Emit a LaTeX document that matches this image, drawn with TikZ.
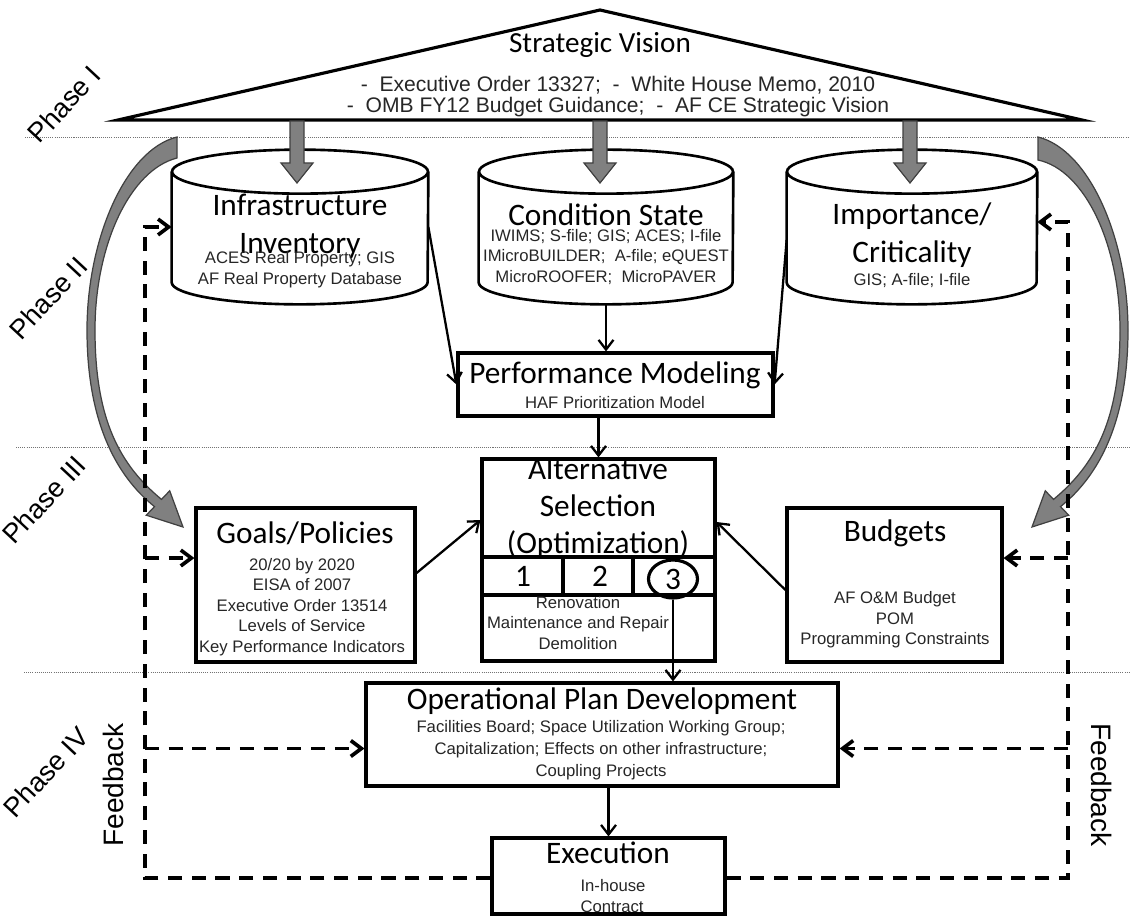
\documentclass[tikz,border=0pt]{standalone}
\usepackage{fontspec}
\setmainfont{Liberation Sans}
\newfontfamily\calfont{Carlito}
\usetikzlibrary{arrows.meta,fit,calc,shapes.geometric}
\begin{document}
\begin{tikzpicture}[x=0.02cm,y=-0.02cm,
  box/.style={draw, line width=1.8pt, inner sep=0pt},
  body/.style={inner sep=0pt},
  cyl/.style={line width=1.5pt},
  ttl/.style={font=\calfont\fontsize{17.8}{21.5}\selectfont, align=center, inner sep=0pt},
  sub/.style={font=\fontsize{9.5}{11.9}\selectfont, text=black!85, align=center, inner sep=0pt},
  arr/.style={line width=1.3pt, -{Straight Barb[length=5.5pt,width=8.5pt]}},
  fb/.style={line width=2.1pt, dash pattern=on 8pt off 5.5pt},
  fbarr/.style={fb, -{Straight Barb[length=6pt,width=9pt]}},
  phase/.style={font=\fontsize{15.5}{17}\selectfont, rotate=47, inner sep=0pt},
  fbtext/.style={font=\fontsize{16}{18}\selectfont, inner sep=0pt},
  divider/.style={draw=black!55, line width=0.5pt, dash pattern=on 0.6pt off 0.6pt},
  blockarrow/.style={fill=black!50, draw=black!75, line width=0.7pt, line join=miter},
]
\useasboundingbox (0,0) rectangle (1130,919);

% phase dividers
\draw[divider] (25,137) -- (1130,137);
\draw[divider] (16,447) -- (1130,447);
\draw[divider] (24,672) -- (1130,672);

% phase labels
\node[phase] (p1) at (64,104) {Phase I};
\node[phase] (p2) at (48,298) {Phase II};
\node[phase] (p3) at (44,500) {Phase III};
\node[phase] (p4) at (46,772) {Phase IV};

% strategic vision triangle
\draw[line width=1.8pt, line join=miter] (118,120) -- (600,10) -- (1082,120) -- cycle;
\node[ttl, font=\calfont\fontsize{16.6}{20}\selectfont] (svt) at (600,45) {Strategic Vision};
\node[font=\fontsize{12}{12}\selectfont, align=center, inner sep=0pt, text=black!85] (svs) at (618,97)
  {-\ \ Executive Order 13327;\ \ -\ \ White House Memo, 2010\\-\ \ OMB FY12 Budget Guidance;\ \ -\ \ AF CE Strategic Vision};

% curved gray arrows
\draw[blockarrow] (177,137) .. controls (125,150) and (87,240) .. (87,330)
   .. controls (87,420) and (115,475) .. (154.5,506.6)
   -- (146.3,515.2) -- (183,527) -- (169.7,490.8) -- (161.5,499.4)
   .. controls (120,465) and (95,420) .. (95,330)
   .. controls (95,245) and (130,170) .. (177,158) -- cycle;
\draw[blockarrow] (1038,137) .. controls (1090,150) and (1128,240) .. (1128,330)
   .. controls (1128,420) and (1100,475) .. (1060.5,506.6)
   -- (1068.7,515.2) -- (1032,527) -- (1045.3,490.8) -- (1053.5,499.4)
   .. controls (1095,465) and (1120,420) .. (1120,330)
   .. controls (1120,245) and (1085,170) .. (1038,160) -- cycle;

% cylinders
\node[body, fit={(172,172)(428,282)}] (inf) {};
\node[body, fit={(479,172)(733,282)}] (cond) {};
\node[body, fit={(787,172)(1037,282)}] (imp) {};
\draw[cyl] (inf.north west) -- (inf.south west) arc[start angle=180,end angle=360,x radius=2.56cm,y radius=0.44cm] -- (inf.north east);
\draw[cyl] (inf.north) ellipse[x radius=2.56cm,y radius=0.44cm];
\draw[cyl] (cond.north west) -- (cond.south west) arc[start angle=180,end angle=360,x radius=2.54cm,y radius=0.44cm] -- (cond.north east);
\draw[cyl] (cond.north) ellipse[x radius=2.54cm,y radius=0.44cm];
\draw[cyl] (imp.north west) -- (imp.south west) arc[start angle=180,end angle=360,x radius=2.5cm,y radius=0.44cm] -- (imp.north east);
\draw[cyl] (imp.north) ellipse[x radius=2.5cm,y radius=0.44cm];

% gray down arrows
\foreach \c in {297,600,910} {
  \draw[blockarrow] (\c-7,121) -- (\c+7,121) -- (\c+7,163) -- (\c+16,163) -- (\c,183) -- (\c-16,163) -- (\c-7,163) -- cycle;
}

\node[ttl] (infT) at (300,226) {Infrastructure\\Inventory};
\node[sub] (infS) at (300,270) {ACES Real Property; GIS\\AF Real Property Database};
\node[ttl] (condT) at (606,215) {Condition State};
\node[sub] (condS) at (606,257) {IWIMS; S-file; GIS; ACES; I-file\\IMicroBUILDER;\ \ A-file; eQUEST\\MicroROOFER;\ \ MicroPAVER};
\node[ttl] (impT) at (912,235) {Importance/\\Criticality};
\node[sub] (impS) at (912,281) {GIS; A-file; I-file};

% boxes
\node[box, fit={(458,353)(773,416)}] (pm) {};
\node[ttl] (pmT) at (615,375) {Performance Modeling};
\node[sub] (pmS) at (615,403) {HAF Prioritization Model};

\node[box, fit={(482,459)(715,661)}] (alt) {};
\draw[line width=1.8pt] (482,557) -- (715,557) (482,595) -- (715,595) (563,557) -- (563,595) (633,557) -- (633,595);
\node[ttl, font=\calfont\fontsize{17.8}{21}\selectfont] (altT) at (598,508) {Alternative\\Selection\\(Optimization)};
\node[ttl] (n1) at (523,576) {1};
\node[ttl] (n2) at (600,576) {2};
\node[ttl, draw, ellipse, line width=1.8pt, minimum width=0.98cm, minimum height=0.76cm] (c3) at (673,579) {3};
\node[sub, font=\fontsize{9.5}{11.6}\selectfont] (altS) at (578,623) {Renovation\\Maintenance and Repair\\Demolition};

\node[box, fit={(196,508)(415,662)}] (goals) {};
\node[ttl] (goalsT) at (305,533) {Goals/Policies};
\node[sub, font=\fontsize{9.5}{11.6}\selectfont] (goalsS) at (302,607) {20/20 by 2020\\EISA of 2007\\Executive Order 13514\\Levels of Service\\Key Performance Indicators};

\node[box, fit={(787,508)(1002,662)}] (bud) {};
\node[ttl] (budT) at (895,533) {Budgets};
\node[sub, font=\fontsize{9.5}{11.6}\selectfont] (budS) at (895,620) {AF O\&M Budget\\POM\\Programming Constraints};

\node[box, fit={(366,683)(838,786)}] (op) {};
\node[ttl] (opT) at (602,701) {Operational Plan Development};
\node[sub, font=\fontsize{9.5}{12.6}\selectfont] (opS) at (601,750) {Facilities Board; Space Utilization Working Group;\\Capitalization; Effects on other infrastructure;\\Coupling Projects};

\node[box, fit={(492,838)(725,914)}] (exe) {};
\node[ttl] (exeT) at (608,853) {Execution};
\node[sub, align=left] (exeS) at (613,896) {In-house\\Contract};

% feedback labels
\node[fbtext, rotate=90] (fbL) at (113,785) {Feedback};
\node[fbtext, rotate=-90] (fbR) at (1102,785) {Feedback};

% connector end points
\coordinate (L) at (145,0);
\coordinate (R) at (1068,0);
\coordinate (goalsIn) at ([yshift=0.54cm]goals.west);
\coordinate (opInL) at ([yshift=-0.28cm]op.west);
\coordinate (budIn) at ([yshift=0.54cm]bud.east);
\coordinate (opInR) at ([yshift=-0.28cm]op.east);
\coordinate (impIn) at ([yshift=0.1cm]imp.east);
\coordinate (condOut) at ([yshift=-0.44cm]cond.south);
\coordinate (impOut) at ([yshift=-0.26cm]imp.west);
\coordinate (goalsOut) at ([yshift=0.24cm]goals.east);
\coordinate (budOut) at ([yshift=-0.1cm]bud.west);
\coordinate (altInL) at ([yshift=0.8cm]alt.west);
\coordinate (altInR) at ([yshift=0.76cm]alt.east);
\coordinate (exeL) at ([yshift=-0.04cm]exe.west);
\coordinate (exeR) at ([yshift=-0.04cm]exe.east);

% solid connectors
\draw[arr] (condOut) -- (condOut |- pm.north);
\draw[arr] (inf.east) -- (pm.west);
\draw[arr] (impOut) -- (pm.east);
\draw[arr] (pm.south -| alt.north) -- (alt.north);
\draw[arr] (goalsOut) -- (altInL);
\draw[arr] (budOut) -- (altInR);
\draw[arr] (c3.south) -- (c3.south |- op.north);
\draw[arr] (exe.north |- op.south) -- (exe.north);

% feedback connectors
\draw[fbarr] (exeL) -- (exeL -| L) |- (inf.west);
\draw[fbarr] (L |- goalsIn) -- (goalsIn);
\draw[fbarr] (L |- opInL) -- (opInL);
\draw[fbarr] (exeR) -- (exeR -| R) |- (impIn);
\draw[fbarr] (R |- budIn) -- (budIn);
\draw[fbarr] (R |- opInR) -- (opInR);
\end{tikzpicture}
\end{document}
